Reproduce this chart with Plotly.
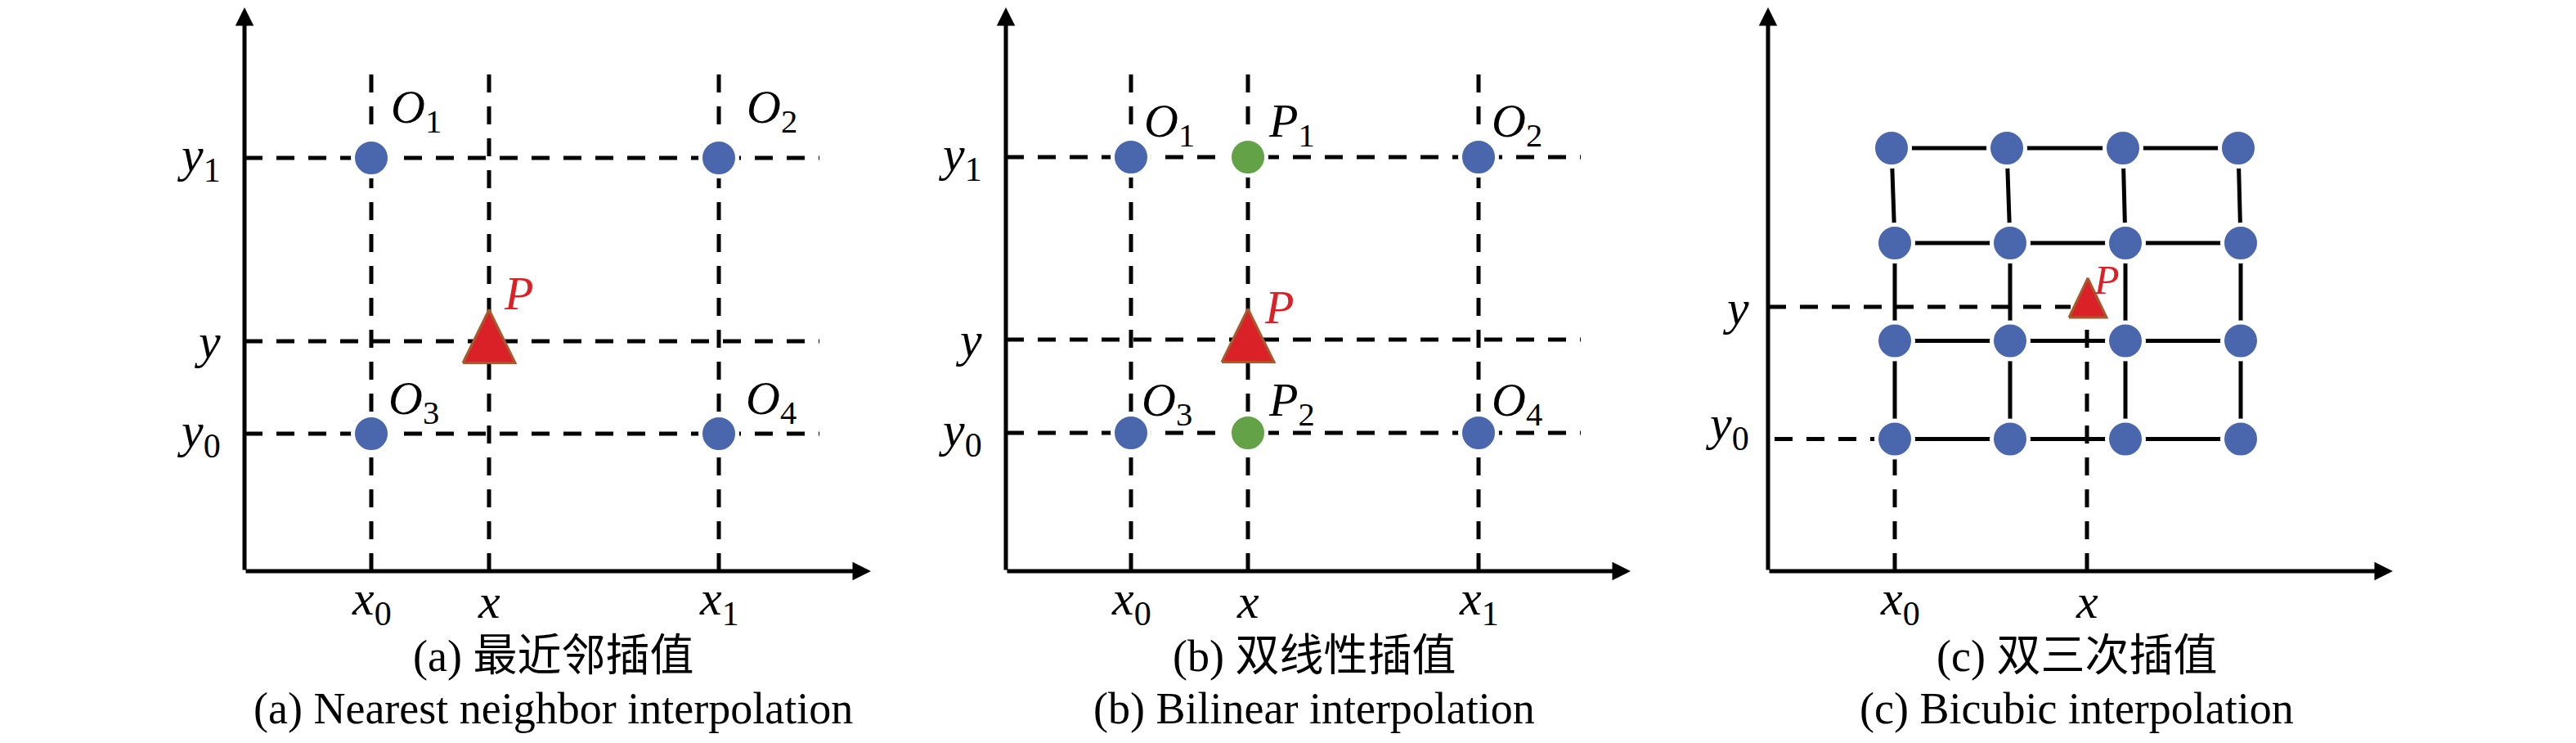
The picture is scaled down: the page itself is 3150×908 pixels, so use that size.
import plotly.graph_objects as go

# all positions are in pixels measured from each panel's axis origin

# (a) nearest neighbour interpolation
a_xvals = [155, 299, 580]          # x0, x, x1
a_yvals = [168, 281, 505]          # y0, y, y1
a_obs_x = [155, 580, 155, 580]     # O1..O4
a_obs_y = [505, 505, 168, 168]
a_obs_names = ["1", "2", "3", "4"]
a_obs_lab_x = [177, 612, 174, 611]
a_obs_lab_y = [564, 564, 208, 208]
a_P = [299, 287]
a_P_lab = [315, 340]

# (b) bilinear interpolation
b_xvals = [153, 296, 578]
b_yvals = [169, 283, 506]
b_obs_x = [153, 578, 153, 578]
b_obs_y = [506, 506, 169, 169]
b_obs_names = ["1", "2", "3", "4"]
b_obs_lab_x = [167, 592, 164, 592]
b_obs_lab_y = [547, 547, 206, 206]
b_mid_x = [296, 296]               # P1, P2
b_mid_y = [506, 169]
b_mid_lab_x = [319, 319]
b_mid_lab_y = [547, 206]
b_P = [296, 288]
b_P_lab = [314, 323]

# (c) bicubic interpolation, 4x4 neighbourhood (rows top -> bottom)
c_rows_y = [517, 401, 281.5, 161.5]
c_rows_x = [
    [151, 292, 434, 575],
    [155, 296, 437, 578],
    [155, 296, 437, 578],
    [155, 296, 437, 578],
]
c_xvals = [155, 390]               # x0, x
c_yvals = [161.5, 323]             # y0, y
c_P = [391, 334]
c_P_lab = [396, 356]

x_labels = ["<i>x</i><sub>0</sub>", "<i>x</i>", "<i>x</i><sub>1</sub>"]
y_labels = ["<i>y</i><sub>0</sub>", "<i>y</i>", "<i>y</i><sub>1</sub>"]
captions = [
    ["(a) 最近邻插值", "(a) Nearest neighbor interpolation"],
    ["(b) 双线性插值", "(b) Bilinear interpolation"],
    ["(c) 双三次插值", "(c) Bicubic interpolation"],
]

BLUE = "#4A67AD"
GREEN = "#63A247"
RED = "#DA2128"
BROWN = "#A65A2E"
DASH = "22px,17px"
FONT = "Liberation Serif"
CJK_FONT = "Liberation Serif, Noto Sans CJK SC"

W, H = 3150, 908
OFF = 8   # the page body has an 8px margin
panels = [  # (left px, right px, origin x px)
    (200, 1100, 299),
    (1100, 2050, 1230),
    (2050, 3150, 2162),
]
ORIGIN_Y = 698
AX_TIP_X = [766, 764, 764]
AX_TIP_Y = 689

fig = go.Figure()
layout = dict(
    width=W - OFF, height=H - OFF, margin=dict(l=0, r=0, t=0, b=0, pad=0),
    plot_bgcolor="white", paper_bgcolor="white", showlegend=False,
)
annotations = []

for i, (l, r, ox) in enumerate(panels):
    sfx = "" if i == 0 else str(i + 1)
    layout["xaxis" + sfx] = dict(domain=[max(l - OFF, 0) / (W - OFF), (r - OFF) / (W - OFF)],
                                 range=[max(l, OFF) - ox, r - ox], visible=False,
                                 anchor="y" + sfx, fixedrange=True)
    layout["yaxis" + sfx] = dict(domain=[0, 1], range=[ORIGIN_Y - H, ORIGIN_Y - OFF], visible=False,
                                 anchor="x" + sfx, fixedrange=True)


def xy(i):
    sfx = "" if i == 0 else str(i + 1)
    return "x" + sfx, "y" + sfx


def dashed(i, xs, ys):
    xa, ya = xy(i)
    fig.add_trace(go.Scatter(x=xs, y=ys, mode="lines", xaxis=xa, yaxis=ya, hoverinfo="skip",
                             line=dict(color="black", width=5, dash=DASH)))


def dots(i, xs, ys, color):
    xa, ya = xy(i)
    fig.add_trace(go.Scatter(x=xs, y=ys, mode="markers", xaxis=xa, yaxis=ya,
                             marker=dict(size=45, color=color, line=dict(color="white", width=5))))


def triangle(i, c, w, h):
    xa, ya = xy(i)
    fig.add_trace(go.Scatter(x=[c[0] - w / 2, c[0], c[0] + w / 2, c[0] - w / 2],
                             y=[c[1] - h / 2, c[1] + h / 2, c[1] - h / 2, c[1] - h / 2],
                             mode="lines", fill="toself", fillcolor=RED, xaxis=xa, yaxis=ya,
                             line=dict(color=BROWN, width=3)))


def label(i, x, y, text, size=58, color="black", xanchor="left", yanchor="middle", family=FONT):
    xa, ya = xy(i)
    annotations.append(dict(x=x, y=y, xref=xa, yref=ya, text=text, showarrow=False,
                            xanchor=xanchor, yanchor=yanchor,
                            font=dict(family=family, size=size, color=color)))


def axes(i):
    xa, ya = xy(i)
    for tx, ty in [(AX_TIP_X[i], 0), (0, AX_TIP_Y)]:
        annotations.append(dict(x=tx, y=ty, ax=0, ay=0, xref=xa, yref=ya, axref=xa, ayref=ya,
                                text="", showarrow=True, arrowhead=2, arrowsize=0.9,
                                arrowwidth=5, arrowcolor="black", standoff=0))


# panel (a) and (b): guide lines
for i, (xv, yv) in enumerate([(a_xvals, a_yvals), (b_xvals, b_yvals)]):
    for xx in xv:
        dashed(i, [xx, xx], [0, 618])
    for yy in yv:
        dashed(i, [0, 703], [yy, yy])
    for k in range(3):
        label(i, xv[k], -37, x_labels[k], size=60, xanchor="center")
        label(i, -27, yv[k], y_labels[k], size=60, xanchor="right")

dots(0, a_obs_x, a_obs_y, BLUE)
triangle(0, a_P, 64, 65)
for k in range(4):
    label(0, a_obs_lab_x[k], a_obs_lab_y[k], "<i>O</i><sub>" + a_obs_names[k] + "</sub>")
label(0, a_P_lab[0], a_P_lab[1], "<i>P</i>", color=RED)

dots(1, b_obs_x, b_obs_y, BLUE)
dots(1, b_mid_x, b_mid_y, GREEN)
triangle(1, b_P, 64, 65)
for k in range(4):
    label(1, b_obs_lab_x[k], b_obs_lab_y[k], "<i>O</i><sub>" + b_obs_names[k] + "</sub>")
for k in range(2):
    label(1, b_mid_lab_x[k], b_mid_lab_y[k], "<i>P</i><sub>" + str(k + 1) + "</sub>")
label(1, b_P_lab[0], b_P_lab[1], "<i>P</i>", color=RED)

# panel (c): solid 4x4 grid
xa, ya = xy(2)
for row, yy in zip(c_rows_x, c_rows_y):
    fig.add_trace(go.Scatter(x=row, y=[yy] * 4, mode="lines", xaxis=xa, yaxis=ya,
                             line=dict(color="black", width=5)))
for k in range(4):
    fig.add_trace(go.Scatter(x=[row[k] for row in c_rows_x], y=c_rows_y, mode="lines",
                             xaxis=xa, yaxis=ya, line=dict(color="black", width=5)))
dashed(2, [0, c_P[0] - 21], [c_yvals[1], c_yvals[1]])
dashed(2, [c_xvals[1], c_xvals[1]], [0, c_P[1] - 25])
dashed(2, [8, c_xvals[0]], [c_yvals[0], c_yvals[0]])
dashed(2, [c_xvals[0], c_xvals[0]], [0, c_yvals[0]])
for row, yy in zip(c_rows_x, c_rows_y):
    dots(2, row, [yy] * 4, BLUE)
triangle(2, c_P, 46, 48)
label(2, c_P_lab[0], c_P_lab[1], "<i>P</i>", size=50, color=RED)
label(2, c_xvals[0] + 6, -37, x_labels[0], size=60, xanchor="center")
label(2, c_xvals[1], -37, x_labels[1], size=60, xanchor="center")
label(2, -21, c_yvals[0] + 15, y_labels[0], size=60, xanchor="right")
label(2, -21, c_yvals[1] - 1, y_labels[1], size=60, xanchor="right")

for i in range(3):
    axes(i)
    label(i, 377, -104, captions[i][0], size=54, xanchor="center", family=CJK_FONT)
    label(i, 377, -168, captions[i][1], size=54, xanchor="center", family=CJK_FONT)

layout["annotations"] = annotations
fig.update_layout(**layout)
fig.write_html("out.html")
